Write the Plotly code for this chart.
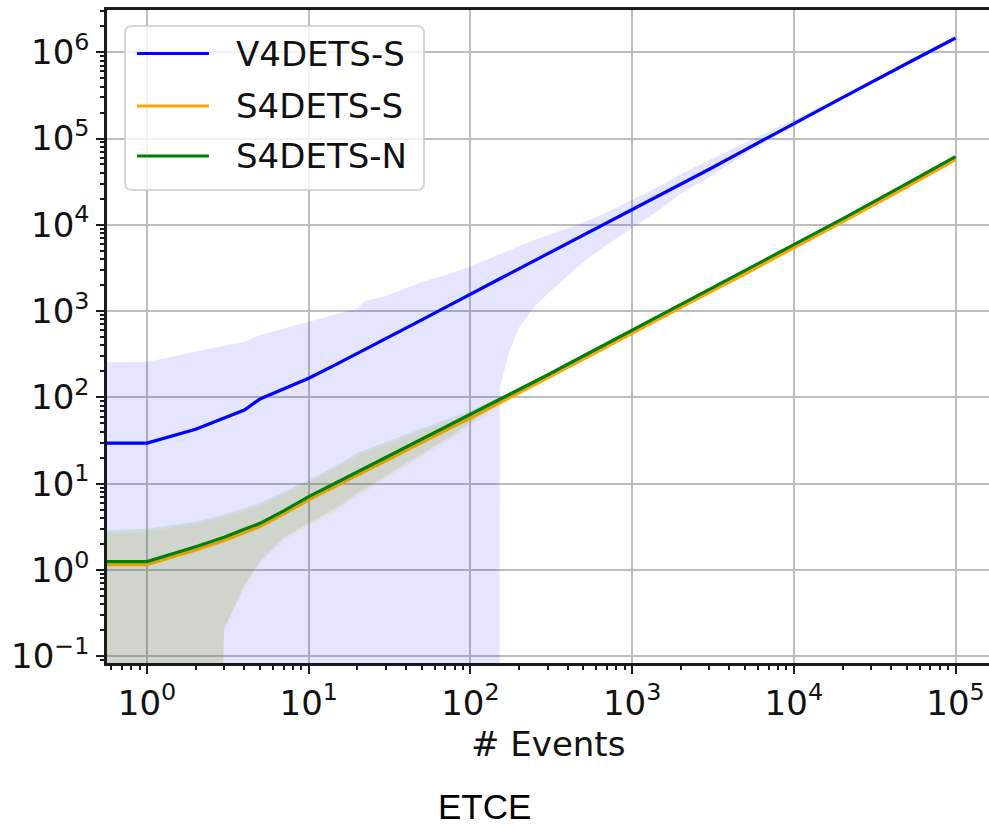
import plotly.graph_objects as go

# ---------------------------------------------------------------- data
# number of events (0.5 stands in for the "0 events" start of each run,
# which a log axis cannot show)
events = [0.5, 1, 2, 3, 4, 5, 7, 10, 15, 20, 22, 30, 50, 75, 100, 150, 152,
          175, 200, 250, 300, 400, 500, 700, 1000, 1500, 2000, 3000, 5000,
          7000, 10000, 20000, 50000, 100000]

# V4DETS-S : mean and band bounds (0 = non-positive bound)
v4s_mean = [29.5, 29.5, 42.7, 57, 71.5, 96, 125, 167, 245, 323, 354, 476, 790,
            1180, 1580, 2340, 2370, 2720, 3100, 3870, 4620, 6120, 7620, 10650,
            14800, 22200, 29500, 44000, 74000, 104000, 150000, 298000, 740000,
            1460000]
v4s_upper = [255, 258, 340, 400, 442, 530, 630, 753, 920, 1070, 1290, 1500,
             2170, 2700, 3300, 4500, 4530, 5130, 5640, 6700, 7550, 9100, 10600,
             14000, 19500, 28500, 38400, 56500, 89000, 120000, 165000, 313000,
             755000, 1475000]
v4s_lower = [0, 0, 0, 0, 0, 0, 0, 0, 0, 0, 0, 0, 0, 0, 0, 0, 133, 355, 645,
             1130, 1585, 2580, 3730, 5870, 9200, 15100, 23000, 35500, 66500,
             95700, 139000, 286000, 725000, 1445000]

# S4DETS-S
s4s_mean = [1.15, 1.15, 1.71, 2.2, 2.72, 3.19, 4.46, 6.5, 9.55, 12.6, 13.8,
            18.5, 30.1, 44.2, 57.5, 85.3, 86.5, 98.4, 112, 140, 167, 223, 278,
            388, 555, 828, 1100, 1650, 2710, 3770, 5360, 10800, 27600, 56800]
s4s_upper = [2.65, 2.8, 3.38, 4.1, 4.85, 5.6, 7.45, 10.2, 15.3, 21.1, 22.7,
             28.2, 40.5, 54, 66, 93, 94, 106, 120, 149, 177, 234, 290, 405,
             572, 851, 1130, 1680, 2770, 3840, 5470, 11000, 28100, 57700]
s4s_lower = [0, 0, 0, 0.2, 0.62, 1.17, 2.2, 3.25, 4.95, 7.15, 7.9, 11.5, 20.5,
             32.2, 47, 78, 79.5, 92, 106, 133, 160, 214, 269, 378, 545, 815,
             1090, 1630, 2690, 3750, 5320, 10700, 27400, 56500]

# S4DETS-N
s4n_mean = [1.25, 1.25, 1.86, 2.39, 2.96, 3.47, 4.85, 7.1, 10.4, 13.7, 15.0,
            20.1, 32.7, 48, 62.5, 92.7, 94, 107, 122, 152, 182, 242, 302, 422,
            603, 900, 1200, 1790, 2950, 4100, 5830, 11700, 30000, 61700]
s4n_upper = [2.85, 3.0, 3.63, 4.4, 5.2, 6.0, 8.0, 11, 16.5, 22.7, 24.4, 30.3,
             43.5, 58, 71, 100, 101, 114, 129, 160, 190, 252, 312, 435, 615,
             915, 1215, 1810, 2980, 4130, 5880, 11800, 30200, 62000]
s4n_lower = [0, 0, 0, 0.21, 0.67, 1.27, 2.38, 3.5, 5.35, 7.75, 8.6, 12.5, 22.3,
             35, 51, 85, 86.5, 100, 115, 144, 174, 232, 292, 410, 590, 885,
             1185, 1770, 2920, 4070, 5780, 11600, 29800, 61400]

series_names = ["V4DETS-S", "S4DETS-S", "S4DETS-N"]
series_colors = ["#0000ff", "#ffa500", "#008000"]
band_colors = ["rgba(0,0,255,0.1)", "rgba(255,165,0,0.1)", "rgba(0,128,0,0.1)"]

x_tick_vals = [1, 10, 100, 1000, 10000, 100000]
x_tick_text = ["10<sup>0</sup>", "10<sup>1</sup>", "10<sup>2</sup>",
               "10<sup>3</sup>", "10<sup>4</sup>", "10<sup>5</sup>"]
y_tick_vals = [0.1, 1, 10, 100, 1000, 10000, 100000, 1000000]
y_tick_text = ["10<sup>\u22121</sup>", "10<sup>0</sup>", "10<sup>1</sup>",
               "10<sup>2</sup>", "10<sup>3</sup>", "10<sup>4</sup>",
               "10<sup>5</sup>", "10<sup>6</sup>"]

x_title = "# Events"
caption = "ETCE"

# ---------------------------------------------------------------- layout geometry
W, H = 989, 827
M_L, M_R, M_T, M_B = 107, 0, 10, 164
PW, PH = W - M_L - M_R, H - M_T - M_B
X_RANGE = [-0.2474, 5.207]
Y_RANGE = [-1.0776, 6.489]
FLOOR = 1e-12  # where a bound is non-positive, push it far below the axis

FONT = "DejaVu Sans, Verdana, sans-serif"
FS = 34


def px_x(px):
    return (px - M_L) / PW


def px_y(py):
    return (M_T + PH - py) / PH


fig = go.Figure()

means = [v4s_mean, s4s_mean, s4n_mean]
uppers = [v4s_upper, s4s_upper, s4n_upper]
lowers = [v4s_lower, s4s_lower, s4n_lower]

for name, col, bcol, m, up, lo in zip(series_names, series_colors, band_colors,
                                      means, uppers, lowers):
    fig.add_trace(go.Scatter(x=events, y=m, mode="lines", name=name,
                             line=dict(color=col, width=3.2), showlegend=False))
    lo_c = [v if v > 0 else FLOOR for v in lo]
    fig.add_trace(go.Scatter(x=events + events[::-1], y=up + lo_c[::-1],
                             mode="lines", fill="toself", fillcolor=bcol,
                             line=dict(width=0, color=bcol),
                             showlegend=False, hoverinfo="skip"))

axis_common = dict(
    type="log", showline=True, linecolor="#1a1a1a", linewidth=2.5,
    showgrid=True, gridcolor="#bdbdbd", gridwidth=2,
    ticks="outside", ticklen=8, tickwidth=2, tickcolor="#1a1a1a",
    tickfont=dict(family=FONT, size=FS, color="#111111"),
    zeroline=False,
    minor=dict(ticks="outside", ticklen=4.5, tickwidth=1.5, tickcolor="#1a1a1a",
               dtick="D1", showgrid=False),
)

fig.update_xaxes(range=X_RANGE, tickvals=x_tick_vals, ticktext=x_tick_text,
                 mirror=True, **axis_common)
fig.update_yaxes(range=Y_RANGE, tickvals=y_tick_vals, ticktext=y_tick_text,
                 mirror=False, **axis_common)

# ---------------------------------------------------------------- legend box
shapes = []
annotations = []
bx0, by0, bx1, by1, r = 125, 26, 424, 190, 7
x0, x1 = px_x(bx0), px_x(bx1)
y0, y1 = px_y(by1), px_y(by0)
rx, ry = r / PW, r / PH
path = (f"M {x0 + rx},{y0} L {x1 - rx},{y0} Q {x1},{y0} {x1},{y0 + ry} "
        f"L {x1},{y1 - ry} Q {x1},{y1} {x1 - rx},{y1} "
        f"L {x0 + rx},{y1} Q {x0},{y1} {x0},{y1 - ry} "
        f"L {x0},{y0 + ry} Q {x0},{y0} {x0 + rx},{y0} Z")
shapes.append(dict(type="path", xref="paper", yref="paper", path=path,
                   fillcolor="rgba(255,255,255,0.8)",
                   line=dict(color="rgba(204,204,204,0.8)", width=2),
                   layer="above"))

row_y = [53.5, 106, 156]
for name, col, ry_px in zip(series_names, series_colors, row_y):
    shapes.append(dict(type="line", xref="paper", yref="paper",
                       x0=px_x(137), x1=px_x(209), y0=px_y(ry_px), y1=px_y(ry_px),
                       line=dict(color=col, width=3), layer="above"))
    annotations.append(dict(text=name, xref="paper", yref="paper",
                            x=px_x(234), y=px_y(ry_px), xanchor="left",
                            yanchor="middle", showarrow=False,
                            font=dict(family=FONT, size=FS, color="#111111")))

annotations.append(dict(text=x_title, xref="paper", yref="paper",
                        x=0.5, y=px_y(743.5), xanchor="center", yanchor="middle",
                        showarrow=False,
                        font=dict(family=FONT, size=FS, color="#111111")))
annotations.append(dict(text=caption, xref="paper", yref="paper",
                        x=px_x(484), y=px_y(806.5), xanchor="center",
                        yanchor="middle", showarrow=False,
                        font=dict(family="Liberation Sans, Arial, sans-serif",
                                  size=35, color="#000000")))

fig.update_layout(
    width=W, height=H,
    margin=dict(l=M_L, r=M_R, t=M_T, b=M_B, pad=0),
    paper_bgcolor="white", plot_bgcolor="white",
    showlegend=False,
    shapes=shapes, annotations=annotations,
)

fig.write_html("out.html")
